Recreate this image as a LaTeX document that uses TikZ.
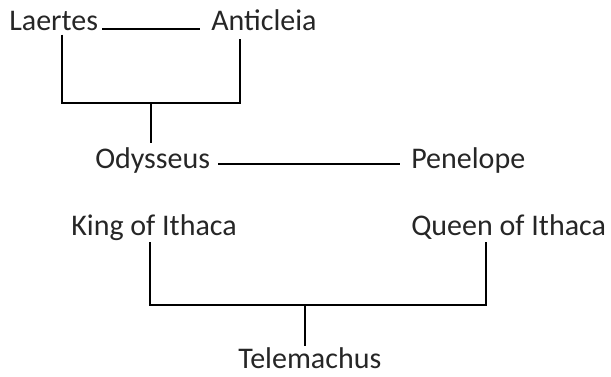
\documentclass[tikz,border=0pt]{standalone}
\usepackage{fontspec}
\setmainfont{Carlito}

\begin{document}
\begin{tikzpicture}[x=1pt,y=-1pt,line width=2.6pt]
  \tikzset{person/.style={font=\fontsize{30}{36}\selectfont,text=black!85,inner sep=0pt,anchor=base west}}
  \useasboundingbox (0,0) rectangle (611,376);
  \node[person] (laertes) at (8,30) {Laertes};
  \node[person] (anticleia) at (210,30) {Anticleia};
  \node[person] (odysseus) at (94,168) {Odysseus};
  \node[person] (penelope) at (410,168) {Penelope};
  \node[person] (king) at (70,235) {King of Ithaca};
  \node[person] (queen) at (410,235) {Queen of Ithaca};
  \node[person] (telemachus) at (237,368) {Telemachus};
  \coordinate (lfoot) at (62,103);
  \coordinate (rfoot) at (240,103);
  \coordinate (pfoot) at (151,104);
  \coordinate (kfoot) at (150,305);
  \coordinate (qfoot) at (486,305);
  \coordinate (tfoot) at (305,305);
  \draw ([xshift=3pt,yshift=1pt]laertes.base east) -- ([xshift=-10pt,yshift=1pt]anticleia.base west);
  \draw ([yshift=-3pt]laertes.south -| lfoot) -- (lfoot) -- (rfoot) -- ([yshift=-7pt]anticleia.south -| rfoot);
  \draw (pfoot) -- ([yshift=3pt]odysseus.north -| pfoot);
  \draw ([xshift=7pt,yshift=4pt]odysseus.base east) -- ([xshift=-10pt,yshift=4pt]penelope.base west);
  \draw ([yshift=-1pt]king.south -| kfoot) -- (kfoot) -- (qfoot) -- ([yshift=-2pt]queen.south -| qfoot);
  \draw (telemachus.north -| tfoot) -- (tfoot);
\end{tikzpicture}
\end{document}
